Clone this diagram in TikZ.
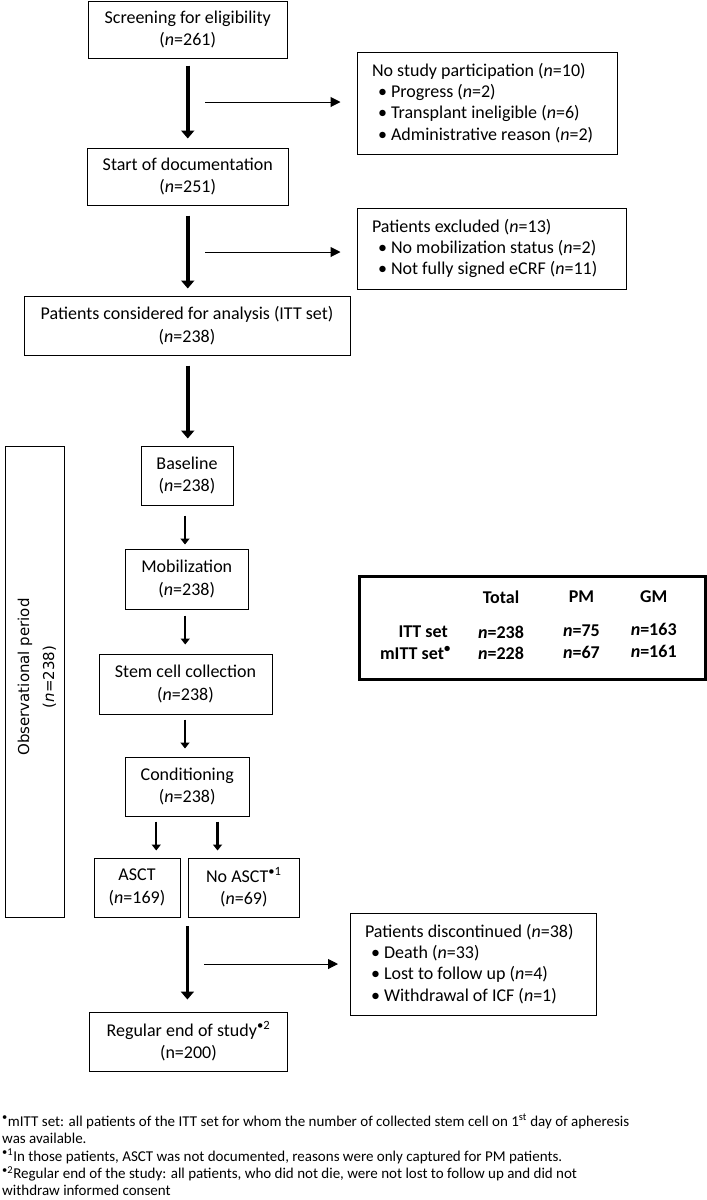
\documentclass[tikz,border=0pt]{standalone}
\usepackage{fontspec}
\setmainfont{Carlito}
\newfontfamily\obsfont{DejaVu Sans}
\usetikzlibrary{arrows.meta}
\begin{document}
\begin{tikzpicture}[x=1pt,y=-1pt,
  box/.style={draw, line width=1pt, align=center, inner sep=0pt, font=\fontsize{18}{22.5}\selectfont},
  sidebox/.style={draw, line width=1pt, align=flush left, inner xsep=15pt, inner ysep=0pt, font=\fontsize{18}{21.3}\selectfont},
  bigarr/.style={line width=3.6pt, -{Triangle[width=13pt,length=8pt]}},
  medarr/.style={line width=2.2pt, -{Triangle[width=9pt,length=6pt]}},
  sidearr/.style={line width=1pt, -{Triangle[width=10pt,length=10pt]}},
  tbltxt/.style={font=\fontsize{18}{22}\selectfont\bfseries, inner sep=0pt},
  fn/.style={anchor=base west, inner sep=0pt, font=\fontsize{15}{18}\selectfont},
]
\useasboundingbox (0,0) rectangle (707,1200);
\fill[white] (0,0) rectangle (707,1200);

% main flow boxes
\node[box, minimum width=198.5pt, minimum height=57pt] (scr) at (187.75,29.5) {Screening for eligibility\\(\textit{n}=261)};
\node[box, minimum width=201.5pt, minimum height=57pt] (doc) at (187.75,176.5) {Start of documentation\\(\textit{n}=251)};
\node[box, minimum width=326pt, minimum height=59pt] (itt) at (187,325.5) {Patients considered for analysis (ITT set)\\(\textit{n}=238)};
\node[box, minimum width=92pt, minimum height=59pt] (base) at (187,475.5) {Baseline\\(\textit{n}=238)};
\node[box, minimum width=122.5pt, minimum height=60pt] (mob) at (186.75,579) {Mobilization\\(\textit{n}=238)};
\node[box, minimum width=173pt, minimum height=60pt] (stem) at (185.5,684) {Stem cell collection\\(\textit{n}=238)};
\node[box, minimum width=123.5pt, minimum height=59pt] (cond) at (187.25,786.5) {Conditioning\\(\textit{n}=238)};
\node[box, minimum width=86pt, minimum height=59pt] (asct) at (137,887.5) {ASCT\\(\textit{n}=169)};
\node[box, minimum width=110.3pt, minimum height=59pt] (noasct) at (243.85,887.5) {No ASCT\textsuperscript{•1}\\(\textit{n}=69)};
\node[box, minimum width=197.3pt, minimum height=59pt] (reg) at (188.4,1041.5) {Regular end of study\textsuperscript{•2}\\(n=200)};

% observational period
\node[draw, line width=1pt, minimum width=59pt, minimum height=471pt, inner sep=0pt] (obs) at (35,681.5) {};
\node[rotate=90, align=center, inner sep=0pt, font=\obsfont\fontsize{15}{25}\selectfont] (obst) at (37,677) {Observational period\\(\textit{n}=238)};

% side boxes
\node[sidebox, minimum height=102pt, text width=230pt] (nostudy) at (487,103) {No study participation (\textit{n}=10)\\
\hspace*{6pt}• Progress (\textit{n}=2)\\
\hspace*{6pt}• Transplant ineligible (\textit{n}=6)\\
\hspace*{6pt}• Administrative reason (\textit{n}=2)};
\node[sidebox, minimum height=81pt, text width=239pt] (excl) at (491.5,248.5) {Patients excluded (\textit{n}=13)\\
\hspace*{6pt}• No mobilization status (\textit{n}=2)\\
\hspace*{6pt}• Not fully signed eCRF (\textit{n}=11)};
\node[sidebox, minimum height=102pt, text width=216.4pt] (disc) at (473.2,964) {Patients discontinued (\textit{n}=38)\\
\hspace*{6pt}• Death (\textit{n}=33)\\
\hspace*{6pt}• Lost to follow up (\textit{n}=4)\\
\hspace*{6pt}• Withdrawal of ICF (\textit{n}=1)};

% table
\node[draw, line width=3pt, minimum width=346.6pt, minimum height=103pt, inner sep=0pt] (tbl) at (532.3,627.5) {};
\node[tbltxt] (hT) at (501,597) {Total};
\node[tbltxt] (hP) at (581.5,597) {PM};
\node[tbltxt] (hG) at (653.7,597) {GM};
\node[tbltxt, anchor=east] (r1) at (448,632) {ITT set};
\node[tbltxt, anchor=east] (r2) at (451,653) {mITT set\textsuperscript{•}};
\node[tbltxt] (v11) at (501,632) {\textit{n}=238};
\node[tbltxt] (v12) at (581.5,631) {\textit{n}=75};
\node[tbltxt] (v13) at (653.7,629) {\textit{n}=163};
\node[tbltxt] (v21) at (501,653) {\textit{n}=228};
\node[tbltxt] (v22) at (581.5,652) {\textit{n}=67};
\node[tbltxt] (v23) at (653.7,651) {\textit{n}=161};

% thick arrows
\draw[bigarr, shorten <=7pt, shorten >=9pt] (scr.south) -- (doc.north);
\draw[bigarr, shorten <=10pt, shorten >=7pt] (doc.south) -- (doc.south |- itt.north);
\draw[bigarr, shorten <=10pt, shorten >=7pt] (doc.south |- itt.south) -- (doc.south |- base.north);
\coordinate (c4) at (187.4,926);
\draw[bigarr, shorten >=12pt] (c4) -- (c4 |- reg.north);

% medium arrows
\draw[medarr, shorten <=10pt, shorten >=4pt] ([xshift=-2pt]base.south) -- ([xshift=-2pt]base.south |- mob.north);
\draw[medarr, shorten <=6pt, shorten >=9pt] ([xshift=-1.5pt]mob.south) -- ([xshift=-1.5pt]mob.south |- stem.north);
\draw[medarr, shorten <=5pt, shorten >=8pt] ([xshift=-0.5pt]stem.south) -- ([xshift=-0.5pt]stem.south |- cond.north);
\draw[medarr, shorten <=5pt, shorten >=7pt] ([xshift=-31pt]cond.south) -- ([xshift=-31pt]cond.south |- asct.north);
\draw[medarr, shorten <=5pt, shorten >=7pt] ([xshift=30.3pt]cond.south) -- ([xshift=30.3pt]cond.south |- noasct.north);

% side arrows
\coordinate (s1) at (205.4,102);
\coordinate (s2) at (205.4,252);
\coordinate (s3) at (204,964);
\draw[sidearr, shorten >=16pt] (s1) -- (s1 -| nostudy.west);
\draw[sidearr, shorten >=16pt] (s2) -- (s2 -| excl.west);
\draw[sidearr, shorten >=11.5pt] (s3) -- (s3 -| disc.west);

% footnotes
\node[fn] (fn1) at (2,1126) {\textsuperscript{•}mITT set: all patients of the ITT set for whom the number of collected stem cell on 1\textsuperscript{st} day of apheresis};
\node[fn] (fn2) at (2,1143.5) {was available.};
\node[fn] (fn3) at (2,1161) {\textsuperscript{•1}In those patients, ASCT was not documented, reasons were only captured for PM patients.};
\node[fn] (fn4) at (2,1178.5) {\textsuperscript{•2}Regular end of the study: all patients, who did not die, were not lost to follow up and did not};
\node[fn] (fn5) at (2,1195.5) {withdraw informed consent};
\end{tikzpicture}
\end{document}
